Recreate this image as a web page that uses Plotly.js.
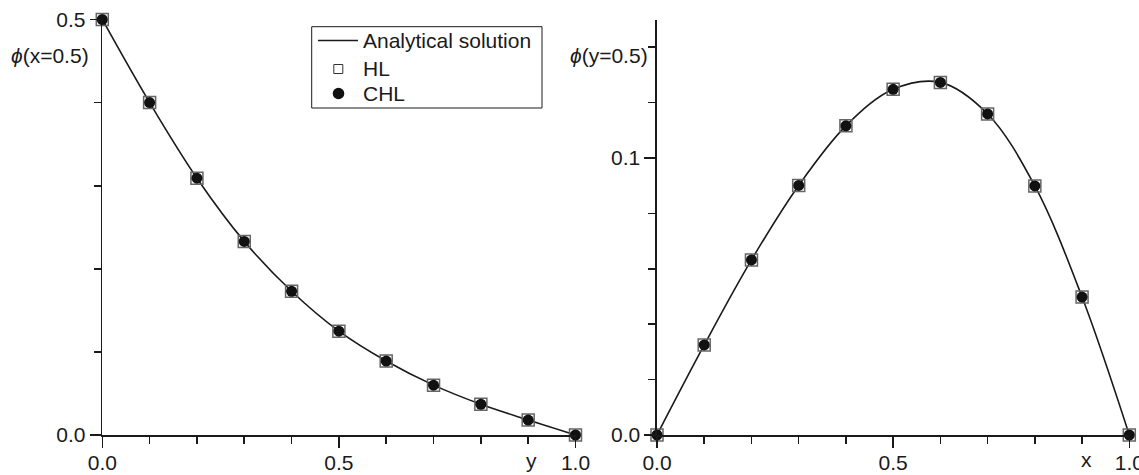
<!DOCTYPE html>
<html>
<head>
<meta charset="utf-8">
<script src="https://cdn.plot.ly/plotly-3.0.1.min.js"></script>
<style>html,body{margin:0;padding:0;background:#fff;}#chart{width:1139px;height:475px;}</style>
</head>
<body>
<div id="chart"></div>
<script>
// Left panel: phi(x=0.5) versus y
const yCoords = [0.0, 0.1, 0.2, 0.3, 0.4, 0.5, 0.6, 0.7, 0.8, 0.9, 1.0];
const phiLeftAnalytical = [0.5, 0.400, 0.309, 0.233, 0.173, 0.125, 0.089, 0.060, 0.037, 0.018, 0.0];
const phiLeftHL  = [0.5, 0.400, 0.309, 0.233, 0.173, 0.125, 0.089, 0.060, 0.037, 0.018, 0.0];
const phiLeftCHL = [0.5, 0.400, 0.309, 0.233, 0.173, 0.125, 0.089, 0.060, 0.037, 0.018, 0.0];

// Right panel: phi(y=0.5) versus x
const xCoords = [0.0, 0.1, 0.2, 0.3, 0.4, 0.5, 0.6, 0.7, 0.8, 0.9, 1.0];
const phiRightAnalytical = [0.0, 0.0325, 0.0632, 0.0901, 0.1116, 0.1248, 0.1273, 0.1159, 0.0899, 0.0498, 0.0];
const phiRightHL  = [0.0, 0.0325, 0.0632, 0.0901, 0.1116, 0.1248, 0.1273, 0.1159, 0.0899, 0.0498, 0.0];
const phiRightCHL = [0.0, 0.0325, 0.0632, 0.0901, 0.1116, 0.1248, 0.1273, 0.1159, 0.0899, 0.0498, 0.0];

const seriesNames = ["Analytical solution", "HL", "CHL"];
const xTickVals = [0, 0.5, 1.0];
const xTickText = ["0.0", "0.5", "1.0"];

const FONT = "Liberation Sans, Arial, Helvetica, sans-serif";
const INK = "#1a1a1a";

function makeTraces(xs, ana, hl, chl, xa, ya) {
  return [
    {x: xs, y: ana, xaxis: xa, yaxis: ya, type: "scatter", mode: "lines",
     name: seriesNames[0], showlegend: false,
     line: {color: INK, width: 1.6, shape: "spline", smoothing: 1.0}, cliponaxis: false},
    {x: xs, y: hl, xaxis: xa, yaxis: ya, type: "scatter", mode: "markers",
     name: seriesNames[1], showlegend: false, cliponaxis: false,
     marker: {symbol: "square-open", size: 12, color: "#666", line: {width: 1.5, color: "#666"}}},
    {x: xs, y: chl, xaxis: xa, yaxis: ya, type: "scatter", mode: "markers",
     name: seriesNames[2], showlegend: false, cliponaxis: false,
     marker: {symbol: "circle", size: 11, color: "#111", line: {width: 0}}}
  ];
}

const data = [].concat(
  makeTraces(yCoords, phiLeftAnalytical, phiLeftHL, phiLeftCHL, "x", "y"),
  makeTraces(xCoords, phiRightAnalytical, phiRightHL, phiRightCHL, "x2", "y2")
);

const W = 1139, H = 475;
const px = v => v / W;
const py = v => 1 - v / H;

const axCommon = {
  showline: true, linecolor: INK, linewidth: 1.6, mirror: false,
  showgrid: false, zeroline: false,
  ticks: "outside", ticklen: 11, tickwidth: 1.6, tickcolor: INK,
  tickfont: {family: FONT, size: 21, color: INK},
  ticklabeloverflow: "allow",
  fixedrange: true
};
const yDomain = [py(435), py(19.5)];
const minorX = {ticks: "outside", ticklen: 7, tickwidth: 1.6, tickcolor: INK, dtick: 0.1, tick0: 0};

const legendFont = {family: FONT, size: 21, color: INK};
const legendRows = [40.5, 68, 93.5];

const layout = {
  width: W, height: H,
  margin: {l: 0, r: 0, t: 0, b: 0},
  paper_bgcolor: "#fff", plot_bgcolor: "#fff",
  font: {family: FONT, size: 21, color: INK},
  showlegend: false,
  xaxis: Object.assign({}, axCommon, {
    domain: [px(102.3), px(575.5)], range: [0, 1], anchor: "y",
    tickvals: xTickVals, ticktext: xTickText, ticklabelstandoff: -3,
    minor: minorX
  }),
  yaxis: Object.assign({}, axCommon, {
    domain: yDomain, range: [0, 0.5], anchor: "x",
    tick0: 0, dtick: 0.5, tickformat: ".1f",
    minor: {ticks: "outside", ticklen: 7, tickwidth: 1.6, tickcolor: INK, dtick: 0.1, tick0: 0}
  }),
  xaxis2: Object.assign({}, axCommon, {
    domain: [px(657), px(1129.3)], range: [0, 1], anchor: "y2",
    tickvals: xTickVals, ticktext: xTickText, ticklabelstandoff: -3,
    minor: minorX
  }),
  yaxis2: Object.assign({}, axCommon, {
    domain: yDomain, range: [0, 0.15], anchor: "x2",
    tick0: 0, dtick: 0.1, tickformat: ".1f",
    minor: {ticks: "outside", ticklen: 7, tickwidth: 1.6, tickcolor: INK, dtick: 0.02, tick0: 0}
  }),
  shapes: [
    // legend frame
    {type: "rect", xref: "paper", yref: "paper", x0: px(311.7), x1: px(542), y0: py(26.7), y1: py(108),
     line: {color: INK, width: 1}, fillcolor: "#fff", layer: "above"},
    // legend key: analytical line
    {type: "line", xref: "paper", yref: "paper", x0: px(318), x1: px(358), y0: py(legendRows[0]), y1: py(legendRows[0]),
     line: {color: INK, width: 1.6}, layer: "above"},
    // legend key: HL open square
    {type: "rect", xref: "paper", yref: "paper", x0: px(333.8), x1: px(342.8), y0: py(legendRows[1] - 3.5), y1: py(legendRows[1] + 5.5),
     line: {color: "#333", width: 1}, fillcolor: "#fff", layer: "above"},
    // legend key: CHL filled circle
    {type: "circle", xref: "paper", yref: "paper", x0: px(332.7), x1: px(344.3), y0: py(legendRows[2] - 5.8), y1: py(legendRows[2] + 5.8),
     line: {color: "#111", width: 0}, fillcolor: "#111", layer: "above"}
  ],
  annotations: [
    {xref: "paper", yref: "paper", x: px(91), y: py(55), xanchor: "right", yanchor: "middle",
     text: "<i>ϕ</i>(x=0.5)", showarrow: false, font: {family: FONT, size: 21, color: INK}},
    {xref: "paper", yref: "paper", x: px(650), y: py(55), xanchor: "right", yanchor: "middle",
     text: "<i>ϕ</i>(y=0.5)", showarrow: false, font: {family: FONT, size: 21, color: INK}},
    {xref: "paper", yref: "paper", x: px(531.7), y: py(460), xanchor: "center", yanchor: "middle",
     text: "y", showarrow: false, font: {family: FONT, size: 21, color: INK}},
    {xref: "paper", yref: "paper", x: px(1086.7), y: py(459), xanchor: "center", yanchor: "middle",
     text: "x", showarrow: false, font: {family: FONT, size: 21, color: INK}},
    {xref: "paper", yref: "paper", x: px(361), y: py(legendRows[0]), xanchor: "left", yanchor: "middle",
     text: seriesNames[0], showarrow: false, font: legendFont, xshift: 0},
    {xref: "paper", yref: "paper", x: px(361), y: py(legendRows[1]), xanchor: "left", yanchor: "middle",
     text: seriesNames[1], showarrow: false, font: legendFont},
    {xref: "paper", yref: "paper", x: px(361), y: py(legendRows[2]), xanchor: "left", yanchor: "middle",
     text: seriesNames[2], showarrow: false, font: legendFont}
  ]
};

Plotly.newPlot("chart", data, layout, {staticPlot: true, displayModeBar: false});
</script>
</body>
</html>
